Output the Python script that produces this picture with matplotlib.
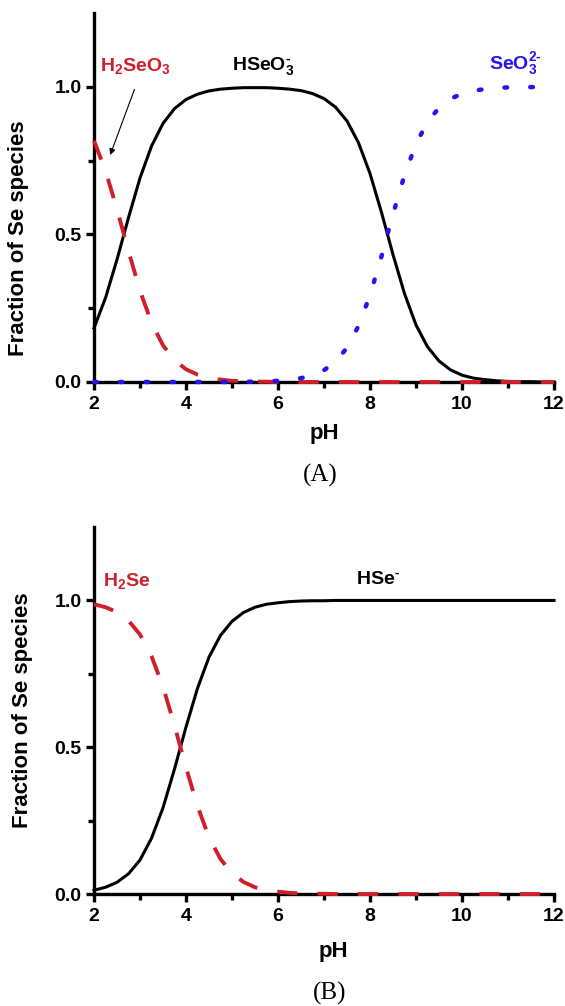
import numpy as np
import matplotlib
matplotlib.use("Agg")
import matplotlib.pyplot as plt

plt.rcParams['font.family'] = ['Liberation Sans', 'DejaVu Sans']
plt.rcParams['font.weight'] = 'bold'
plt.rcParams['mathtext.fontset'] = 'custom'
plt.rcParams['mathtext.rm'] = 'Liberation Sans:bold'
plt.rcParams['mathtext.bf'] = 'Liberation Sans:bold'
plt.rcParams['mathtext.default'] = 'bf'

RED = '#cf1f2a'
BLUE = '#2612f2'

# pH grid (read every 0.25)
ph = [2.0, 2.25, 2.5, 2.75, 3.0, 3.25, 3.5, 3.75, 4.0, 4.25, 4.5, 4.75,
      5.0, 5.25, 5.5, 5.75, 6.0, 6.25, 6.5, 6.75, 7.0, 7.25, 7.5, 7.75,
      8.0, 8.25, 8.5, 8.75, 9.0, 9.25, 9.5, 9.75, 10.0, 10.25, 10.5, 10.75,
      11.0, 11.25, 11.5, 11.75, 12.0]

# (A) selenite species
h2seo3 = [0.817, 0.715, 0.585, 0.443, 0.309, 0.201, 0.124, 0.074, 0.043, 0.025,
          0.014, 0.008, 0.004, 0.003, 0.001, 0.001, 0.0, 0.0, 0.0, 0.0,
          0.0, 0.0, 0.0, 0.0, 0.0, 0.0, 0.0, 0.0, 0.0, 0.0,
          0.0, 0.0, 0.0, 0.0, 0.0, 0.0, 0.0, 0.0, 0.0, 0.0, 0.0]
hseo3 = [0.183, 0.285, 0.415, 0.557, 0.691, 0.799, 0.876, 0.926, 0.957, 0.975,
         0.986, 0.992, 0.995, 0.997, 0.997, 0.997, 0.995, 0.992, 0.987, 0.977,
         0.960, 0.931, 0.884, 0.810, 0.706, 0.574, 0.431, 0.299, 0.193, 0.119,
         0.071, 0.041, 0.023, 0.013, 0.008, 0.004, 0.002, 0.001, 0.001, 0.0, 0.0]
seo3 = [0.0, 0.0, 0.0, 0.0, 0.0, 0.0, 0.0, 0.0, 0.0, 0.0,
        0.0, 0.0, 0.0, 0.001, 0.001, 0.002, 0.004, 0.007, 0.013, 0.023,
        0.040, 0.069, 0.116, 0.190, 0.294, 0.426, 0.569, 0.701, 0.807, 0.881,
        0.929, 0.959, 0.977, 0.987, 0.992, 0.996, 0.998, 0.999, 0.999, 1.0, 1.0]

# (B) selenide species
h2se = [0.987, 0.977, 0.960, 0.931, 0.884, 0.810, 0.706, 0.574, 0.431, 0.299,
        0.193, 0.119, 0.071, 0.041, 0.023, 0.013, 0.008, 0.004, 0.002, 0.001,
        0.001, 0.0, 0.0, 0.0, 0.0, 0.0, 0.0, 0.0, 0.0, 0.0,
        0.0, 0.0, 0.0, 0.0, 0.0, 0.0, 0.0, 0.0, 0.0, 0.0, 0.0]
hse = [0.013, 0.023, 0.040, 0.069, 0.116, 0.190, 0.294, 0.426, 0.569, 0.701,
       0.807, 0.881, 0.929, 0.959, 0.977, 0.987, 0.992, 0.996, 0.998, 0.999,
       0.999, 1.0, 1.0, 1.0, 1.0, 1.0, 1.0, 1.0, 1.0, 1.0,
       1.0, 1.0, 1.0, 1.0, 1.0, 1.0, 1.0, 1.0, 1.0, 1.0, 1.0]

fig = plt.figure(figsize=(5.65, 10.06), dpi=100)
axA = fig.add_axes([0.1664, 0.6203, 0.8142, 0.3668])
axB = fig.add_axes([0.1664, 0.1113, 0.8142, 0.3648])


def style(ax):
    ax.set_xlim(2, 12)
    ax.set_ylim(0, 1.25)
    for s in ['top', 'right']:
        ax.spines[s].set_visible(False)
    for s in ['left', 'bottom']:
        ax.spines[s].set_linewidth(2.4)
    ax.set_xticks([2, 4, 6, 8, 10, 12])
    ax.set_xticks([3, 5, 7, 9, 11], minor=True)
    ax.set_yticks([0.0, 0.5, 1.0])
    ax.set_yticklabels(['0.0', '0.5', '1.0'])
    ax.set_yticks([0.25, 0.75], minor=True)
    ax.tick_params(which='major', direction='out', length=6, width=2.4,
                   labelsize=14, pad=3)
    ax.tick_params(axis='x', which='major', pad=4)
    ax.tick_params(which='minor', direction='out', length=4, width=2.4)
    for lab in ax.get_xticklabels() + ax.get_yticklabels():
        lab.set_fontweight('bold')
    ax.set_xlabel('pH', fontsize=16, fontweight='bold')
    ax.set_ylabel('Fraction of Se species', fontsize=16, fontweight='bold')


style(axA)
style(axB)
axA.xaxis.set_label_coords(0.50, -0.112)
axB.xaxis.set_label_coords(0.52, -0.128)
axA.yaxis.set_label_coords(-0.141, 0.39)
axB.yaxis.set_label_coords(-0.133, 0.50)

# panel A
axA.plot(ph, hseo3, color='black', lw=2.2, zorder=3, clip_on=False)
axA.plot(ph, h2seo3, color=RED, lw=2.8, dashes=(5.2, 5.2), zorder=4, clip_on=False)
axA.plot(ph, seo3, color=BLUE, lw=3.2, dashes=(0.6, 5.2), dash_capstyle='round',
         zorder=5, clip_on=False)
axA.text(2.9, 1.07, r'H$_2$SeO$_3$', color=RED, fontsize=14, ha='center', va='center')
axA.text(5.67, 1.07, r'HSeO$_3^{\text{-}}$', color='black', fontsize=14,
         ha='center', va='center')
axA.text(11.15, 1.08, r'SeO$_3^{\text{2-}}$', color=BLUE, fontsize=14,
         ha='center', va='center')
axA.annotate('', xy=(2.33, 0.76), xytext=(2.9, 1.0),
             arrowprops=dict(arrowstyle='-|>', color='black', lw=0.8,
                             mutation_scale=9))

# panel B
axB.plot(ph, hse, color='black', lw=2.2, zorder=3, clip_on=False)
axB.plot(ph, h2se, color=RED, lw=2.8, dashes=(5.2, 5.2), zorder=4, clip_on=False)
axB.text(2.72, 1.065, r'H$_2$Se', color=RED, fontsize=14, ha='center', va='center')
axB.text(8.17, 1.07, r'HSe$^{\text{-}}$', color='black', fontsize=14,
         ha='center', va='center')

fig.text(320 / 565, 1 - 475 / 1006, '(A)', fontsize=18, fontweight='normal',
         family='Liberation Serif', ha='center', va='center')
fig.text(330 / 565, 1 - 993 / 1006, '(B)', fontsize=18, fontweight='normal',
         family='Liberation Serif', ha='center', va='center')

fig.savefig('out.png', dpi=100)
